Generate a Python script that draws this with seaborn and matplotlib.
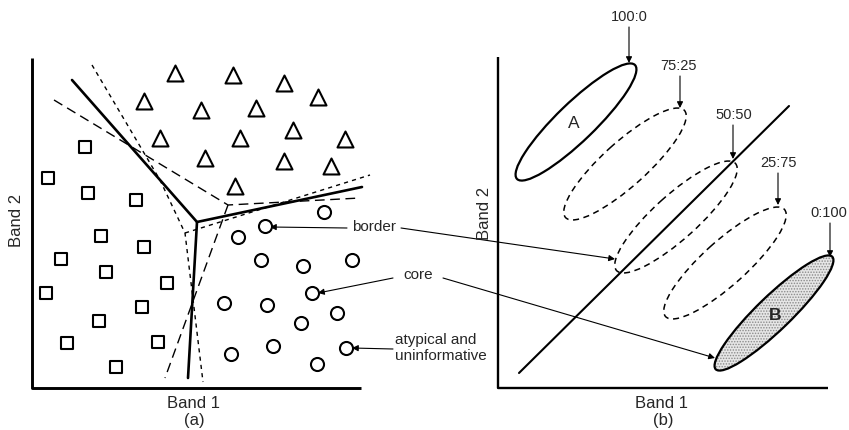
import numpy as np
import pandas as pd
import matplotlib
matplotlib.use("Agg")
import matplotlib.pyplot as plt
import seaborn as sns
from matplotlib.patches import Ellipse

# ---------------- data (canvas units: x to the right, y downward) ----------------
# panel (a) : samples of three classes
tri_x = [175, 233, 284, 318, 144, 201, 256, 160, 240, 293, 345, 205, 284, 331, 235]
tri_y = [73, 75, 83, 97, 101, 110, 108, 138, 138, 130, 139, 158, 161, 166, 186]
sq_x = [85, 48, 88, 136, 101, 144, 61, 106, 167, 46, 142, 99, 67, 158, 116]
sq_y = [147, 178, 193, 200, 236, 247, 259, 272, 283, 293, 307, 321, 343, 342, 367]
circ_x = [324, 265, 238, 261, 303, 352, 312, 224, 267, 337, 301, 346, 273, 231, 317]
circ_y = [212, 226, 237, 260, 266, 260, 293, 303, 305, 313, 323, 348, 346, 354, 364]

# decision boundaries (polylines)
solid_x = [[72, 197, 362], [197, 188]]
solid_y = [[80, 222, 187], [222, 378]]
longdash_x = [[54, 228, 360], [228, 165]]
longdash_y = [[100, 205, 198], [205, 378]]
shortdash_x = [[92, 160, 185, 203], [185, 370]]
shortdash_y = [[65, 180, 233, 382], [233, 175]]

# panel (b) : class ellipses (mixing proportions)
ratio_labels = ["100:0", "75:25", "50:50", "25:75", "0:100"]
ell_cx = [576, 625, 676, 725, 774]
ell_cy = [122, 164, 217, 263, 313]
ell_len = [164, 160, 160, 160, 162]
ell_wid = [38, 44, 44, 44, 34]
ell_ang = [-44, -42, -42, -42, -44]
ratio_tx = [629, 679, 734, 779, 829]
ratio_ty = [17, 66, 115, 163, 213]
ratio_tip_x = [629, 680, 733, 778, 830]
ratio_tip_y = [63, 108, 159, 205, 257]

diag_x = [519, 789]
diag_y = [373, 106]

# ---------------- figure ----------------
sns.set_theme(style="white")
plt.rcParams["font.family"] = ["Liberation Sans", "DejaVu Sans"]
plt.rcParams["hatch.linewidth"] = 0.7

fig = plt.figure(figsize=(8.49, 4.30), dpi=100)
ax = fig.add_axes([0, 0, 1, 1])
ax.set_xlim(0, 849)
ax.set_ylim(430, 0)
ax.axis("off")

# panel axes
ax.plot([32, 32, 361], [58, 388, 388], color="black", lw=2.1, solid_capstyle="butt")
ax.plot([498, 498, 828], [57, 388, 388], color="black", lw=1.7, solid_capstyle="butt")

# boundaries
for xs, ys in zip(solid_x, solid_y):
    ax.plot(xs, ys, color="black", lw=1.9)
for xs, ys in zip(longdash_x, longdash_y):
    ax.plot(xs, ys, color="black", lw=1.0, linestyle=(0, (7, 4)))
for xs, ys in zip(shortdash_x, shortdash_y):
    ax.plot(xs, ys, color="black", lw=1.0, linestyle=(0, (3, 3)))

# samples
mk = dict(facecolor="white", edgecolor="black", linewidth=1.5, zorder=5, legend=False)
sns.scatterplot(x=tri_x, y=tri_y, marker="^", s=11.5 ** 2, ax=ax, **mk)
sns.scatterplot(x=sq_x, y=sq_y, marker="s", s=8.8 ** 2, ax=ax, **mk)
sns.scatterplot(x=circ_x, y=circ_y, marker="o", s=9.4 ** 2, ax=ax, **mk)

# ellipses
for i, lab in enumerate(ratio_labels):
    solid = i in (0, len(ratio_labels) - 1)
    if i == len(ratio_labels) - 1:
        ax.add_patch(Ellipse((ell_cx[i], ell_cy[i]), ell_len[i], ell_wid[i], angle=ell_ang[i],
                             facecolor="#e6e6e6", edgecolor="none", zorder=2))
        ax.add_patch(Ellipse((ell_cx[i], ell_cy[i]), ell_len[i], ell_wid[i], angle=ell_ang[i],
                             facecolor="none", edgecolor="#8a8a8a", lw=0, hatch="......", zorder=2))
    ax.add_patch(Ellipse((ell_cx[i], ell_cy[i]), ell_len[i], ell_wid[i], angle=ell_ang[i],
                         facecolor="none", edgecolor="black",
                         lw=1.6 if solid else 1.1,
                         linestyle="-" if solid else (0, (4, 3)), zorder=3))
    ax.text(ratio_tx[i], ratio_ty[i], lab, ha="center", va="center", fontsize=10.5)
    ax.annotate("", xy=(ratio_tip_x[i], ratio_tip_y[i]), xytext=(ratio_tip_x[i], ratio_ty[i] + 10),
                arrowprops=dict(arrowstyle="-|>", color="black", lw=0.8, mutation_scale=9,
                                shrinkA=0, shrinkB=0))

ax.text(ell_cx[0] - 2, ell_cy[0] + 1, "A", ha="center", va="center", fontsize=12.5)
ax.text(ell_cx[-1] + 1, ell_cy[-1] + 2, "B", ha="center", va="center", fontsize=12.5,
        fontweight="bold", zorder=4)

# 50:50 decision line
ax.plot(diag_x, diag_y, color="black", lw=1.5)

# annotations
arw = dict(arrowstyle="-|>", color="black", lw=0.8, mutation_scale=9, shrinkA=0, shrinkB=0)
ax.text(352, 227, "border", ha="left", va="center", fontsize=11)
ax.annotate("", xy=(270, 227), xytext=(347, 228), arrowprops=arw)
ax.annotate("", xy=(615, 259), xytext=(401, 228), arrowprops=arw)

ax.text(403, 275, "core", ha="left", va="center", fontsize=11)
ax.annotate("", xy=(318, 293), xytext=(393, 278), arrowprops=arw)
ax.annotate("", xy=(715, 358), xytext=(443, 278), arrowprops=arw)

ax.text(395, 348, "atypical and\nuninformative", ha="left", va="center", fontsize=11,
        linespacing=1.2)
ax.annotate("", xy=(352, 348), xytext=(393, 349), arrowprops=arw)

# axis labels
ax.text(17, 220, "Band 2", rotation=90, ha="center", va="center", fontsize=12)
ax.text(194, 403, "Band 1", ha="center", va="center", fontsize=12)
ax.text(194, 421, "(a)", ha="center", va="center", fontsize=12)
ax.text(485, 213, "Band 2", rotation=90, ha="center", va="center", fontsize=12)
ax.text(662, 404, "Band 1", ha="center", va="center", fontsize=12)
ax.text(663, 421, "(b)", ha="center", va="center", fontsize=12)

fig.savefig("out.png", dpi=100, facecolor="white")
